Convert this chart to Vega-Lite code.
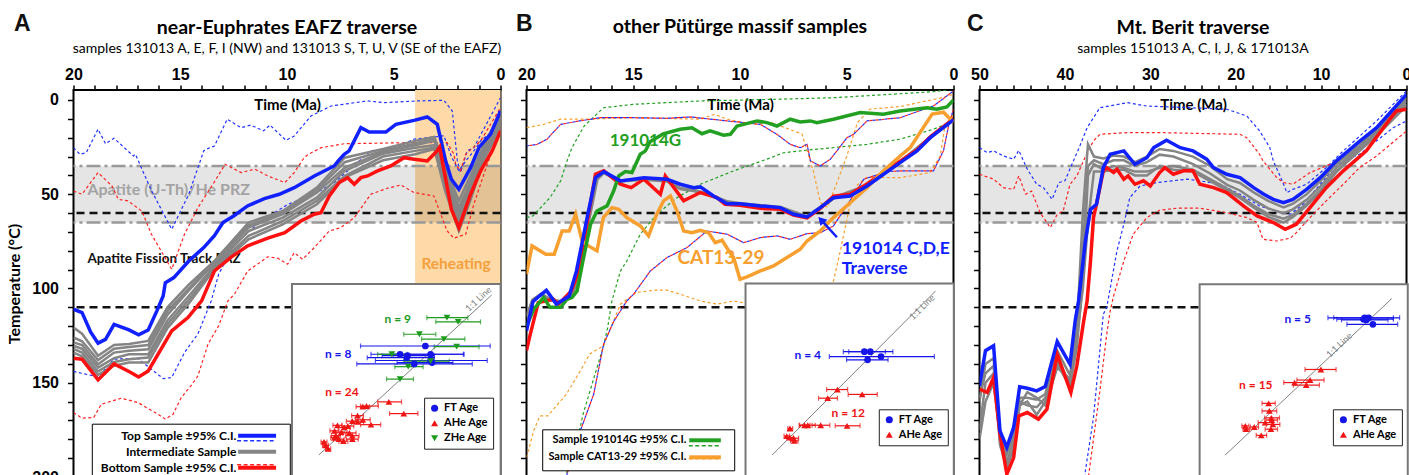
{
"$schema": "https://vega.github.io/schema/vega-lite/v6.json",
"padding": {"left": 5.5, "top": 11, "right": 0, "bottom": 0},
"bounds": "flush",
"spacing": 26,
"config": {
  "font": "Lato",
  "view": {"stroke": "black", "strokeWidth": 2},
  "axis": {"labelColor": "black", "titleColor": "black", "tickColor": "black", "domainColor": "black", "grid": false, "labelFont": "Liberation Sans", "titleFont": "Lato"},
  "legend": {"labelFont": "Lato", "labelColor": "black"},
  "text": {"font": "Lato"},
  "title": {"font": "Lato", "subtitleFont": "Lato", "color": "black", "subtitleColor": "black"}
},
"datasets": {
"A_thick": [
{"s":"top","t":20,"T":111},{"s":"top","t":19.6,"T":112.8},{"s":"top","t":19.2,"T":123},{"s":"top","t":18.85,"T":129},{"s":"top","t":18.5,"T":127},{"s":"top","t":18.1,"T":119},{"s":"top","t":17.4,"T":122},{"s":"top","t":16.95,"T":124.6},{"s":"top","t":16.5,"T":122},{"s":"top","t":16.1,"T":112},{"s":"top","t":15.8,"T":104},{"s":"top","t":15.7,"T":97},{"s":"top","t":15.3,"T":94.2},{"s":"top","t":14.6,"T":85.4},{"s":"top","t":13.9,"T":78.3},{"s":"top","t":13.4,"T":72},{"s":"top","t":13.0,"T":65},{"s":"top","t":12.5,"T":61.5},{"s":"top","t":11.85,"T":56.2},{"s":"top","t":11.06,"T":52.3},{"s":"top","t":10.36,"T":50},{"s":"top","t":9.66,"T":46.5},{"s":"top","t":8.72,"T":40.3},{"s":"top","t":7.79,"T":35},{"s":"top","t":7.6,"T":32.3},{"s":"top","t":7.32,"T":28.8},{"s":"top","t":7.09,"T":27},{"s":"top","t":6.54,"T":14.7},{"s":"top","t":6.15,"T":17},{"s":"top","t":5.37,"T":17},{"s":"top","t":4.9,"T":12.9},{"s":"top","t":4.05,"T":10.8},{"s":"top","t":3.43,"T":9},{"s":"top","t":2.96,"T":12.9},{"s":"top","t":2.57,"T":32.3},{"s":"top","t":2.3,"T":42},{"s":"top","t":1.95,"T":47.4},{"s":"top","t":1.4,"T":35.9},{"s":"top","t":1.0,"T":25},{"s":"top","t":0.47,"T":18.2},{"s":"top","t":0,"T":5.8},
{"s":"bot","t":20,"T":137},{"s":"bot","t":19.6,"T":137.5},{"s":"bot","t":18.85,"T":148.5},{"s":"bot","t":18.1,"T":140},{"s":"bot","t":17.4,"T":144},{"s":"bot","t":16.95,"T":146.9},{"s":"bot","t":16.5,"T":143.7},{"s":"bot","t":15.4,"T":122.5},{"s":"bot","t":14.64,"T":115.4},{"s":"bot","t":14.0,"T":106.6},{"s":"bot","t":13.4,"T":90.7},{"s":"bot","t":12.6,"T":83.2},{"s":"bot","t":11.84,"T":77.4},{"s":"bot","t":10.9,"T":73.3},{"s":"bot","t":10.1,"T":70.4},{"s":"bot","t":9.35,"T":64.2},{"s":"bot","t":8.72,"T":60.6},{"s":"bot","t":8.41,"T":59.8},{"s":"bot","t":8.02,"T":50.9},{"s":"bot","t":7.55,"T":43.8},{"s":"bot","t":7.16,"T":41.2},{"s":"bot","t":6.85,"T":44.7},{"s":"bot","t":6.54,"T":41.2},{"s":"bot","t":6.23,"T":40.3},{"s":"bot","t":5.76,"T":37.6},{"s":"bot","t":5.14,"T":35},{"s":"bot","t":4.52,"T":30.6},{"s":"bot","t":4.05,"T":31.4},{"s":"bot","t":3.43,"T":32.3},{"s":"bot","t":3.04,"T":27.9},{"s":"bot","t":2.85,"T":25},{"s":"bot","t":2.6,"T":40},{"s":"bot","t":2.3,"T":58},{"s":"bot","t":1.95,"T":67.7},{"s":"bot","t":1.4,"T":50},{"s":"bot","t":0.93,"T":37.6},{"s":"bot","t":0.39,"T":27},{"s":"bot","t":0,"T":16.4}
],
"A_gray": [
{"t":20,"g1":120.7,"g2":128.6,"g3":130.4,"g4":132,"g5":134,"g6":126},
{"t":19.6,"g1":124,"g2":130,"g3":132,"g4":134,"g5":136,"g6":128},
{"t":18.85,"g1":135.7,"g2":140.2,"g3":142,"g4":144,"g5":145.8,"g6":138},
{"t":18.1,"g1":130,"g2":134,"g3":137,"g4":139,"g5":141,"g6":132},
{"t":17.4,"g1":129.5,"g2":133,"g3":134.9,"g4":137.5,"g5":139.3,"g6":131},
{"t":16.5,"g1":127.8,"g2":132.2,"g3":134.9,"g4":136.6,"g5":139.3,"g6":130},
{"t":15.6,"g1":110,"g2":114,"g3":117,"g4":119,"g5":121,"g6":112},
{"t":14.6,"g1":98,"g2":101,"g3":104,"g4":106,"g5":108,"g6":100},
{"t":13.4,"g1":85.4,"g2":86.5,"g3":88,"g4":89,"g5":89.8,"g6":86},
{"t":11.8,"g1":65,"g2":67.7,"g3":69.5,"g4":72.1,"g5":73.9,"g6":66.5},
{"t":10.2,"g1":58.9,"g2":60.6,"g3":62.4,"g4":64.2,"g5":66,"g6":59.8},
{"t":8.6,"g1":46.5,"g2":49.1,"g3":51.8,"g4":53.5,"g5":55.3,"g6":47.8},
{"t":7.3,"g1":30.6,"g2":36,"g3":37.6,"g4":40.3,"g5":41,"g6":33},
{"t":5.5,"g1":26,"g2":27.5,"g3":28.5,"g4":30,"g5":32,"g6":27},
{"t":4.0,"g1":21.7,"g2":24,"g3":25.3,"g4":27,"g5":28.8,"g6":23},
{"t":3.1,"g1":19.6,"g2":21.7,"g3":24,"g4":25.3,"g5":26,"g6":20.5},
{"t":2.6,"g1":35,"g2":38,"g3":42,"g4":45,"g5":48,"g6":40},
{"t":1.95,"g1":53.5,"g2":57,"g3":61.5,"g4":64.2,"g5":69.5,"g6":60},
{"t":1.4,"g1":40,"g2":43,"g3":46,"g4":49,"g5":53,"g6":44},
{"t":0.8,"g1":24,"g2":26,"g3":28,"g4":30,"g5":32,"g6":27},
{"t":0,"g1":7.6,"g2":10,"g3":11.1,"g4":13,"g5":15,"g6":9}
],
"A_dash": [
{"s":"top","id":"u","t":20,"T":25.3},{"s":"top","id":"u","t":19.7,"T":28.8},{"s":"top","id":"u","t":19.4,"T":27.9},{"s":"top","id":"u","t":18.85,"T":15.5},{"s":"top","id":"u","t":18.5,"T":23.2},{"s":"top","id":"u","t":18.1,"T":20.3},{"s":"top","id":"u","t":17.2,"T":29.7},{"s":"top","id":"u","t":17.1,"T":28.8},{"s":"top","id":"u","t":16.35,"T":48},{"s":"top","id":"u","t":15.4,"T":68.6},{"s":"top","id":"u","t":14.6,"T":50},{"s":"top","id":"u","t":13.9,"T":27},{"s":"top","id":"u","t":13.8,"T":26.2},{"s":"top","id":"u","t":13.4,"T":24.4},{"s":"top","id":"u","t":12.8,"T":10.2},{"s":"top","id":"u","t":12.15,"T":14.7},{"s":"top","id":"u","t":11.7,"T":13.3},{"s":"top","id":"u","t":11.1,"T":16.4},{"s":"top","id":"u","t":10.8,"T":13.3},{"s":"top","id":"u","t":10.05,"T":21.4},{"s":"top","id":"u","t":9.66,"T":19.1},{"s":"top","id":"u","t":8.88,"T":8.5},{"s":"top","id":"u","t":7.94,"T":3.2},{"s":"top","id":"u","t":6.23,"T":0.5},{"s":"top","id":"u","t":5.45,"T":1.4},{"s":"top","id":"u","t":3.9,"T":0.5},{"s":"top","id":"u","t":2.65,"T":0.2},{"s":"top","id":"u","t":2.26,"T":5.8},{"s":"top","id":"u","t":2.02,"T":32.3},{"s":"top","id":"u","t":1.87,"T":38.5},{"s":"top","id":"u","t":1.56,"T":27},{"s":"top","id":"u","t":1.25,"T":25.3},{"s":"top","id":"u","t":0,"T":-1.2},
{"s":"top","id":"l","t":20,"T":144},{"s":"top","id":"l","t":18.85,"T":146.9},{"s":"top","id":"l","t":18.1,"T":137.5},{"s":"top","id":"l","t":17.0,"T":137},{"s":"top","id":"l","t":15.8,"T":147.8},{"s":"top","id":"l","t":15.4,"T":147.2},{"s":"top","id":"l","t":14.8,"T":134},{"s":"top","id":"l","t":14.17,"T":124},{"s":"top","id":"l","t":13.55,"T":106.6},{"s":"top","id":"l","t":13.2,"T":92.4},{"s":"top","id":"l","t":12.46,"T":76.5},{"s":"top","id":"l","t":11.2,"T":64.2},{"s":"top","id":"l","t":9.97,"T":55.4},{"s":"top","id":"l","t":8.72,"T":50},{"s":"top","id":"l","t":7.79,"T":43.8},{"s":"top","id":"l","t":7.16,"T":37.6},{"s":"top","id":"l","t":6.07,"T":27},{"s":"top","id":"l","t":4.98,"T":25.3},{"s":"top","id":"l","t":4.05,"T":20.8},{"s":"top","id":"l","t":2.65,"T":19},{"s":"top","id":"l","t":2.3,"T":30},{"s":"top","id":"l","t":1.95,"T":37.6},{"s":"top","id":"l","t":1.6,"T":32},{"s":"top","id":"l","t":1.25,"T":27},{"s":"top","id":"l","t":0.93,"T":21.7},{"s":"top","id":"l","t":0,"T":12.9},
{"s":"bot","id":"u","t":20,"T":48.3},{"s":"bot","id":"u","t":19.6,"T":50},{"s":"bot","id":"u","t":18.85,"T":38.5},{"s":"bot","id":"u","t":18.2,"T":45.6},{"s":"bot","id":"u","t":17.9,"T":52.7},{"s":"bot","id":"u","t":17.45,"T":53.5},{"s":"bot","id":"u","t":16.8,"T":58.9},{"s":"bot","id":"u","t":16.35,"T":71.2},{"s":"bot","id":"u","t":15.4,"T":89.8},{"s":"bot","id":"u","t":14.8,"T":71.2},{"s":"bot","id":"u","t":14.17,"T":57.1},{"s":"bot","id":"u","t":13.47,"T":44.7},{"s":"bot","id":"u","t":12.9,"T":34.1},{"s":"bot","id":"u","t":12.15,"T":38.5},{"s":"bot","id":"u","t":11.5,"T":36.7},{"s":"bot","id":"u","t":10.9,"T":40.3},{"s":"bot","id":"u","t":10.1,"T":43.8},{"s":"bot","id":"u","t":9.66,"T":38.5},{"s":"bot","id":"u","t":9.2,"T":30.6},{"s":"bot","id":"u","t":9.0,"T":28.8},{"s":"bot","id":"u","t":8.4,"T":25.3},{"s":"bot","id":"u","t":7.3,"T":23.2},{"s":"bot","id":"u","t":4.05,"T":22.6},{"s":"bot","id":"u","t":2.5,"T":22.6},{"s":"bot","id":"u","t":2.18,"T":28.8},{"s":"bot","id":"u","t":2.1,"T":34.1},{"s":"bot","id":"u","t":1.87,"T":37.6},{"s":"bot","id":"u","t":1.63,"T":28.8},{"s":"bot","id":"u","t":0.93,"T":21.7},{"s":"bot","id":"u","t":0,"T":4.1},
{"s":"bot","id":"l","t":20,"T":165.8},{"s":"bot","id":"l","t":19.6,"T":168.8},{"s":"bot","id":"l","t":19.05,"T":168.4},{"s":"bot","id":"l","t":18.7,"T":161.4},{"s":"bot","id":"l","t":17.76,"T":158.2},{"s":"bot","id":"l","t":16.98,"T":160.5},{"s":"bot","id":"l","t":16.04,"T":166.7},{"s":"bot","id":"l","t":15.7,"T":169.3},{"s":"bot","id":"l","t":15.34,"T":166.7},{"s":"bot","id":"l","t":14.95,"T":157.8},{"s":"bot","id":"l","t":14.5,"T":151.6},{"s":"bot","id":"l","t":14.17,"T":146.3},{"s":"bot","id":"l","t":13.7,"T":129.5},{"s":"bot","id":"l","t":13.2,"T":119.8},{"s":"bot","id":"l","t":12.77,"T":106.6},{"s":"bot","id":"l","t":12.46,"T":103},{"s":"bot","id":"l","t":11.84,"T":90.7},{"s":"bot","id":"l","t":10.9,"T":83.2},{"s":"bot","id":"l","t":10.44,"T":83.9},{"s":"bot","id":"l","t":9.97,"T":87.1},{"s":"bot","id":"l","t":9.66,"T":81},{"s":"bot","id":"l","t":9.27,"T":84.5},{"s":"bot","id":"l","t":8.72,"T":78.3},{"s":"bot","id":"l","t":8.02,"T":69.5},{"s":"bot","id":"l","t":7.48,"T":67.7},{"s":"bot","id":"l","t":6.85,"T":62.4},{"s":"bot","id":"l","t":6.07,"T":50},{"s":"bot","id":"l","t":5.3,"T":46.8},{"s":"bot","id":"l","t":4.67,"T":45.1},{"s":"bot","id":"l","t":4.05,"T":49.1},{"s":"bot","id":"l","t":3.12,"T":50.9},{"s":"bot","id":"l","t":2.5,"T":69.5},{"s":"bot","id":"l","t":2.18,"T":73.3},{"s":"bot","id":"l","t":1.63,"T":71.2},{"s":"bot","id":"l","t":1.25,"T":55.3},{"s":"bot","id":"l","t":0.62,"T":34.1},{"s":"bot","id":"l","t":0,"T":14.7}
],
"A_ins": [
{"k":"FT","X":14.3,"Y":15.8,"lo":5.6,"hi":23.0},{"k":"FT","X":10.9,"Y":14.6,"lo":7.0,"hi":19.4},{"k":"FT","X":11.9,"Y":14.4,"lo":8.5,"hi":15.5},{"k":"FT","X":15.0,"Y":14.6,"lo":10.0,"hi":19.5},{"k":"FT","X":11.8,"Y":14.1,"lo":6.5,"hi":15.5},{"k":"FT","X":12.8,"Y":13.2,"lo":5.1,"hi":20.6},{"k":"FT","X":15.0,"Y":13.7,"lo":7.6,"hi":22.6},{"k":"FT","X":15.2,"Y":13.4,"lo":10.5,"hi":18.0},
{"k":"ZHe","X":17.2,"Y":19.9,"lo":14.5,"hi":20.0},{"k":"ZHe","X":18.7,"Y":19.3,"lo":15.7,"hi":21.7},{"k":"ZHe","X":13.5,"Y":17.5,"lo":11.4,"hi":15.7},{"k":"ZHe","X":16.8,"Y":16.8,"lo":13.8,"hi":19.6},{"k":"ZHe","X":18.5,"Y":15.7,"lo":15.5,"hi":21.5},{"k":"ZHe","X":9.8,"Y":14.6,"lo":7.9,"hi":11.9},{"k":"ZHe","X":15.0,"Y":13.6,"lo":11.4,"hi":17.5},{"k":"ZHe","X":12.0,"Y":12.8,"lo":10.2,"hi":14.0},{"k":"ZHe","X":10.9,"Y":11.0,"lo":9.1,"hi":12.7},
{"k":"AHe","X":6.4,"Y":7.1,"lo":5.6,"hi":8.0},{"k":"AHe","X":5.9,"Y":7.0,"lo":5.0,"hi":6.8},{"k":"AHe","X":9.4,"Y":7.7,"lo":7.9,"hi":11.1},{"k":"AHe","X":11.4,"Y":6.0,"lo":9.5,"hi":13.3},{"k":"AHe","X":5.9,"Y":5.1,"lo":4.9,"hi":6.9},{"k":"AHe","X":5.2,"Y":4.8,"lo":4.4,"hi":6.0},{"k":"AHe","X":7.0,"Y":4.4,"lo":5.6,"hi":8.3},{"k":"AHe","X":4.5,"Y":4.9,"lo":3.7,"hi":5.3},{"k":"AHe","X":2.5,"Y":4.3,"lo":1.9,"hi":3.1},{"k":"AHe","X":3.9,"Y":4.2,"lo":3.1,"hi":4.7},{"k":"AHe","X":3.4,"Y":4.0,"lo":2.6,"hi":4.2},{"k":"AHe","X":2.1,"Y":3.5,"lo":1.5,"hi":2.7},{"k":"AHe","X":3.0,"Y":3.3,"lo":2.2,"hi":3.8},{"k":"AHe","X":4.1,"Y":3.2,"lo":3.2,"hi":5.0},{"k":"AHe","X":2.3,"Y":2.8,"lo":1.7,"hi":2.9},{"k":"AHe","X":4.5,"Y":2.8,"lo":3.6,"hi":5.4},{"k":"AHe","X":3.3,"Y":2.0,"lo":2.7,"hi":3.9},{"k":"AHe","X":2.7,"Y":2.3,"lo":2.0,"hi":3.4},{"k":"AHe","X":4.5,"Y":2.3,"lo":3.7,"hi":5.3},{"k":"AHe","X":0.7,"Y":1.9,"lo":0.3,"hi":1.1},{"k":"AHe","X":0.9,"Y":1.4,"lo":0.5,"hi":1.3},{"k":"AHe","X":1.25,"Y":0.9,"lo":0.9,"hi":1.6},{"k":"AHe","X":2.1,"Y":2.5,"lo":1.6,"hi":2.6},{"k":"AHe","X":5.2,"Y":5.7,"lo":4.4,"hi":6.0}
],
"B_thick": [
{"s":"gr","t":20,"T":115},{"s":"gr","t":19.7,"T":106},{"s":"gr","t":19.3,"T":103},{"s":"gr","t":18.9,"T":106},{"s":"gr","t":18.4,"T":107},{"s":"gr","t":17.9,"T":104},{"s":"gr","t":17.6,"T":95},{"s":"gr","t":17.2,"T":70},{"s":"gr","t":16.7,"T":42},{"s":"gr","t":16.38,"T":38.5},{"s":"gr","t":15.6,"T":43},{"s":"gr","t":14.5,"T":42},{"s":"gr","t":13.4,"T":43},{"s":"gr","t":12.8,"T":47},{"s":"gr","t":12.17,"T":48},{"s":"gr","t":11.5,"T":50},{"s":"gr","t":10.6,"T":54},{"s":"gr","t":10,"T":55},{"s":"gr","t":8.1,"T":57},{"s":"gr","t":6.86,"T":62},{"s":"gr","t":5.62,"T":52},{"s":"gr","t":4.05,"T":45.5},{"s":"gr","t":2.5,"T":33},{"s":"gr","t":1.09,"T":20},{"s":"gr","t":0,"T":10.5},
{"s":"r","t":20,"T":133},{"s":"r","t":19.84,"T":125},{"s":"r","t":19.45,"T":107.5},{"s":"r","t":18.75,"T":105.7},{"s":"r","t":18.5,"T":108.3},{"s":"r","t":17.9,"T":101.3},{"s":"r","t":17.6,"T":92},{"s":"r","t":17.16,"T":65},{"s":"r","t":16.77,"T":39.4},{"s":"r","t":16.38,"T":37.6},{"s":"r","t":15.6,"T":44.7},{"s":"r","t":15.1,"T":46.5},{"s":"r","t":14.5,"T":42},{"s":"r","t":13.73,"T":50},{"s":"r","t":13.5,"T":40.3},{"s":"r","t":12.64,"T":53.5},{"s":"r","t":11.86,"T":49.1},{"s":"r","t":11.08,"T":51.8},{"s":"r","t":10.7,"T":55.3},{"s":"r","t":10,"T":55.8},{"s":"r","t":9.05,"T":57.5},{"s":"r","t":8.11,"T":58},{"s":"r","t":7.49,"T":61},{"s":"r","t":6.86,"T":62.5},{"s":"r","t":6.24,"T":57.5},{"s":"r","t":5.62,"T":51},{"s":"r","t":4.84,"T":50},{"s":"r","t":4.05,"T":44.5},{"s":"r","t":3.28,"T":38.5},{"s":"r","t":2.5,"T":32.5},{"s":"r","t":1.71,"T":26.5},{"s":"r","t":1.09,"T":19.5},{"s":"r","t":0,"T":10},
{"s":"o","t":20,"T":92.4},{"s":"o","t":19.74,"T":77.4},{"s":"o","t":19.1,"T":81.8},{"s":"o","t":18.7,"T":81.8},{"s":"o","t":18.33,"T":69.5},{"s":"o","t":18.0,"T":69.5},{"s":"o","t":17.7,"T":60.6},{"s":"o","t":17.4,"T":74.8},{"s":"o","t":17.1,"T":77.4},{"s":"o","t":16.7,"T":80},{"s":"o","t":16.4,"T":62.4},{"s":"o","t":16.0,"T":57.1},{"s":"o","t":15.68,"T":58},{"s":"o","t":15.3,"T":62.4},{"s":"o","t":14.67,"T":66.8},{"s":"o","t":14.28,"T":72.1},{"s":"o","t":13.9,"T":60.6},{"s":"o","t":13.58,"T":53.5},{"s":"o","t":13.26,"T":50.9},{"s":"o","t":12.95,"T":58.9},{"s":"o","t":12.64,"T":69.5},{"s":"o","t":12.25,"T":70.4},{"s":"o","t":11.86,"T":69.1},{"s":"o","t":11.47,"T":70.4},{"s":"o","t":11.16,"T":75.7},{"s":"o","t":10.84,"T":74.4},{"s":"o","t":10.53,"T":80},{"s":"o","t":10.3,"T":83.6},{"s":"o","t":10.0,"T":95.1},{"s":"o","t":9.67,"T":93.8},{"s":"o","t":9.05,"T":90.7},{"s":"o","t":8.43,"T":88},{"s":"o","t":7.8,"T":83.6},{"s":"o","t":7.18,"T":79.2},{"s":"o","t":6.86,"T":74.8},{"s":"o","t":6.24,"T":69.5},{"s":"o","t":5.62,"T":62.4},{"s":"o","t":4.84,"T":54.5},{"s":"o","t":4.05,"T":46.5},{"s":"o","t":3.28,"T":37.6},{"s":"o","t":2.5,"T":29.7},{"s":"o","t":2.03,"T":25.3},{"s":"o","t":1.0,"T":7.5},{"s":"o","t":0.47,"T":6.5},{"s":"o","t":0,"T":12},
{"s":"g","t":20,"T":120},{"s":"g","t":19.66,"T":111},{"s":"g","t":19.2,"T":104.8},{"s":"g","t":18.9,"T":110},{"s":"g","t":18.4,"T":110},{"s":"g","t":18.1,"T":105.7},{"s":"g","t":17.87,"T":104.8},{"s":"g","t":17.63,"T":101.3},{"s":"g","t":17.35,"T":85},{"s":"g","t":17.0,"T":65.9},{"s":"g","t":16.7,"T":58.9},{"s":"g","t":16.23,"T":56.2},{"s":"g","t":15.92,"T":48.3},{"s":"g","t":15.68,"T":40.3},{"s":"g","t":15.37,"T":38},{"s":"g","t":15.06,"T":38.5},{"s":"g","t":14.67,"T":28.8},{"s":"g","t":14.43,"T":27},{"s":"g","t":14.2,"T":22},{"s":"g","t":13.6,"T":18},{"s":"g","t":12.8,"T":15.5},{"s":"g","t":12.25,"T":14.7},{"s":"g","t":11.78,"T":17.9},{"s":"g","t":11.4,"T":16.4},{"s":"g","t":10.77,"T":18.7},{"s":"g","t":10.45,"T":18.2},{"s":"g","t":10.14,"T":13.8},{"s":"g","t":9.2,"T":11.1},{"s":"g","t":8.74,"T":12},{"s":"g","t":8.27,"T":13.8},{"s":"g","t":7.65,"T":10.2},{"s":"g","t":7.18,"T":11.7},{"s":"g","t":6.7,"T":11.1},{"s":"g","t":6.4,"T":12},{"s":"g","t":5.62,"T":10.2},{"s":"g","t":4.37,"T":6.7},{"s":"g","t":3.28,"T":7.6},{"s":"g","t":2.5,"T":5.8},{"s":"g","t":1.25,"T":4.1},{"s":"g","t":0.78,"T":4.9},{"s":"g","t":0.31,"T":3.7},{"s":"g","t":0,"T":0},
{"s":"b","t":20,"T":122.5},{"s":"b","t":19.7,"T":107},{"s":"b","t":19.4,"T":104},{"s":"b","t":19.07,"T":101},{"s":"b","t":18.6,"T":108.3},{"s":"b","t":18.0,"T":104},{"s":"b","t":17.66,"T":90.7},{"s":"b","t":17.16,"T":62.4},{"s":"b","t":16.77,"T":41.2},{"s":"b","t":16.38,"T":38},{"s":"b","t":15.6,"T":42.9},{"s":"b","t":14.5,"T":41.2},{"s":"b","t":13.42,"T":42},{"s":"b","t":12.8,"T":44.7},{"s":"b","t":12.17,"T":46.5},{"s":"b","t":11.86,"T":46.1},{"s":"b","t":11.24,"T":50.9},{"s":"b","t":10.6,"T":55},{"s":"b","t":10,"T":55},{"s":"b","t":9.05,"T":56.2},{"s":"b","t":8.11,"T":57.1},{"s":"b","t":7.49,"T":60.6},{"s":"b","t":6.86,"T":62},{"s":"b","t":6.24,"T":57.1},{"s":"b","t":5.62,"T":51.8},{"s":"b","t":4.84,"T":50.9},{"s":"b","t":4.05,"T":45.6},{"s":"b","t":3.28,"T":39.4},{"s":"b","t":2.5,"T":33.2},{"s":"b","t":1.71,"T":27},{"s":"b","t":1.09,"T":20},{"s":"b","t":0,"T":10.5}
],
"B_dash": [
{"s":"g","id":"u","t":20,"T":62.4},{"s":"g","id":"u","t":19.7,"T":61.5},{"s":"g","id":"u","t":18.9,"T":51.8},{"s":"g","id":"u","t":18.4,"T":42.9},{"s":"g","id":"u","t":18.1,"T":32.3},{"s":"g","id":"u","t":17.87,"T":25.3},{"s":"g","id":"u","t":17.3,"T":13.8},{"s":"g","id":"u","t":16.39,"T":4.1},{"s":"g","id":"u","t":14.98,"T":2.3},{"s":"g","id":"u","t":11.86,"T":0.5},{"s":"g","id":"u","t":8.27,"T":-0.4},{"s":"g","id":"u","t":5.62,"T":-1.2},{"s":"g","id":"u","t":0.94,"T":-4.4},{"s":"g","id":"u","t":0,"T":-5.8},
{"s":"g","id":"l","t":18.4,"T":215},{"s":"g","id":"l","t":18.19,"T":199},{"s":"g","id":"l","t":17.8,"T":189.6},{"s":"g","id":"l","t":17.35,"T":166.7},{"s":"g","id":"l","t":16.7,"T":142},{"s":"g","id":"l","t":16.4,"T":131},{"s":"g","id":"l","t":16.2,"T":120.7},{"s":"g","id":"l","t":16.0,"T":106.6},{"s":"g","id":"l","t":15.6,"T":90.7},{"s":"g","id":"l","t":15.3,"T":85.4},{"s":"g","id":"l","t":14.67,"T":71.2},{"s":"g","id":"l","t":13.9,"T":60.6},{"s":"g","id":"l","t":12.95,"T":51.8},{"s":"g","id":"l","t":11.86,"T":44.7},{"s":"g","id":"l","t":10.3,"T":37.6},{"s":"g","id":"l","t":8.74,"T":31.4},{"s":"g","id":"l","t":7.96,"T":28},{"s":"g","id":"l","t":7.18,"T":27},{"s":"g","id":"l","t":4.05,"T":23.5},{"s":"g","id":"l","t":2.5,"T":20.8},{"s":"g","id":"l","t":0.94,"T":15.5},{"s":"g","id":"l","t":0.16,"T":12},{"s":"g","id":"l","t":0,"T":10},
{"s":"o","id":"u","t":20,"T":14.7},{"s":"o","id":"u","t":19.2,"T":12.9},{"s":"o","id":"u","t":18.4,"T":10.2},{"s":"o","id":"u","t":17.3,"T":10.2},{"s":"o","id":"u","t":15,"T":9.4},{"s":"o","id":"u","t":11.86,"T":10.2},{"s":"o","id":"u","t":11.2,"T":7.6},{"s":"o","id":"u","t":10.6,"T":10.2},{"s":"o","id":"u","t":9.36,"T":12.9},{"s":"o","id":"u","t":8.58,"T":11.8},{"s":"o","id":"u","t":7.1,"T":18},{"s":"o","id":"u","t":6.55,"T":38.3},{"s":"o","id":"u","t":6.24,"T":54.3},{"s":"o","id":"u","t":5.9,"T":57},{"s":"o","id":"u","t":5.5,"T":45},{"s":"o","id":"u","t":4.99,"T":29.5},{"s":"o","id":"u","t":4.5,"T":12},{"s":"o","id":"u","t":3.9,"T":4.8},{"s":"o","id":"u","t":2.5,"T":3.5},{"s":"o","id":"u","t":0.47,"T":-1.4},{"s":"o","id":"u","t":0,"T":-3},
{"s":"o","id":"l","t":20,"T":189.6},{"s":"o","id":"l","t":19.66,"T":175.5},{"s":"o","id":"l","t":19.38,"T":167.6},{"s":"o","id":"l","t":19.0,"T":167.6},{"s":"o","id":"l","t":18.13,"T":156},{"s":"o","id":"l","t":17.48,"T":143.7},{"s":"o","id":"l","t":17.04,"T":134.8},{"s":"o","id":"l","t":16.4,"T":130.4},{"s":"o","id":"l","t":15.6,"T":108.3},{"s":"o","id":"l","t":14.86,"T":102.2},{"s":"o","id":"l","t":14.0,"T":100.9},{"s":"o","id":"l","t":13.42,"T":100.9},{"s":"o","id":"l","t":12.8,"T":103},{"s":"o","id":"l","t":11.86,"T":106.6},{"s":"o","id":"l","t":11.08,"T":108.3},{"s":"o","id":"l","t":10.3,"T":106.6},{"s":"o","id":"l","t":9.52,"T":108.3},{"s":"o","id":"l","t":8.74,"T":104.8},{"s":"o","id":"l","t":7.65,"T":104.8},{"s":"o","id":"l","t":6.4,"T":103},{"s":"o","id":"l","t":5.62,"T":96},{"s":"o","id":"l","t":5.3,"T":80},{"s":"o","id":"l","t":4.84,"T":55},{"s":"o","id":"l","t":4.5,"T":45},{"s":"o","id":"l","t":4.05,"T":41},{"s":"o","id":"l","t":2.5,"T":41.2},{"s":"o","id":"l","t":1.09,"T":38.5},{"s":"o","id":"l","t":0.62,"T":29.7},{"s":"o","id":"l","t":0.39,"T":13},{"s":"o","id":"l","t":0,"T":8}
],
"B_trav": [
{"id":"u","t":20,"T":24.4},{"id":"u","t":19.5,"T":23.5},{"id":"u","t":19.04,"T":20.8},{"id":"u","t":18.4,"T":12.9},{"id":"u","t":17.5,"T":11.1},{"id":"u","t":16.54,"T":9.4},{"id":"u","t":15,"T":9.4},{"id":"u","t":13.42,"T":9.7},{"id":"u","t":12.33,"T":9},{"id":"u","t":10.6,"T":11.1},{"id":"u","t":9.05,"T":12.9},{"id":"u","t":8.27,"T":18.2},{"id":"u","t":7.65,"T":23.5},{"id":"u","t":7.18,"T":25.3},{"id":"u","t":6.86,"T":23.5},{"id":"u","t":6.7,"T":32.3},{"id":"u","t":6.24,"T":35},{"id":"u","t":5.77,"T":31.4},{"id":"u","t":5.46,"T":27},{"id":"u","t":4.99,"T":20},{"id":"u","t":4.68,"T":18.2},{"id":"u","t":4.05,"T":11.1},{"id":"u","t":2.5,"T":9.4},{"id":"u","t":0.94,"T":3.2},{"id":"u","t":0,"T":-4.8},
{"id":"l","t":18.3,"T":215},{"id":"l","t":18.1,"T":198.5},{"id":"l","t":17.48,"T":175.5},{"id":"l","t":16.85,"T":156},{"id":"l","t":16.39,"T":129.5},{"id":"l","t":15.9,"T":117.2},{"id":"l","t":15.3,"T":106.6},{"id":"l","t":14.98,"T":103},{"id":"l","t":14.2,"T":90.7},{"id":"l","t":13.42,"T":83.6},{"id":"l","t":12.48,"T":78.3},{"id":"l","t":11.55,"T":69.5},{"id":"l","t":10.6,"T":71.2},{"id":"l","t":9.83,"T":75.7},{"id":"l","t":9.05,"T":73},{"id":"l","t":8.27,"T":72.1},{"id":"l","t":7.65,"T":73.9},{"id":"l","t":6.86,"T":70.9},{"id":"l","t":6.24,"T":70.4},{"id":"l","t":5.62,"T":66.8},{"id":"l","t":4.2,"T":42},{"id":"l","t":3.1,"T":38},{"id":"l","t":2.5,"T":37.6},{"id":"l","t":0.94,"T":37.6},{"id":"l","t":0.47,"T":27},{"id":"l","t":0.2,"T":12},{"id":"l","t":0,"T":5}
],
"B_ins": [
{"k":"FT","X":17.1,"Y":19.1,"lo":13.2,"hi":21.0},{"k":"FT","X":18.2,"Y":19.1,"lo":14.2,"hi":22.4},{"k":"FT","X":17.7,"Y":17.6,"lo":13.8,"hi":21.5},{"k":"FT","X":20.2,"Y":18.2,"lo":10.6,"hi":30.1},
{"k":"AHe","X":12.1,"Y":12.1,"lo":10.1,"hi":14.0},{"k":"AHe","X":16.7,"Y":11.2,"lo":14.1,"hi":19.5},{"k":"AHe","X":10.3,"Y":10.5,"lo":8.6,"hi":12.1},{"k":"AHe","X":13.9,"Y":5.4,"lo":11.7,"hi":16.3},{"k":"AHe","X":9.0,"Y":5.5,"lo":7.4,"hi":10.7},{"k":"AHe","X":6.6,"Y":5.5,"lo":5.1,"hi":8.0},{"k":"AHe","X":6.0,"Y":5.5,"lo":5.0,"hi":7.0},{"k":"AHe","X":3.3,"Y":4.9,"lo":2.9,"hi":3.8},{"k":"AHe","X":2.7,"Y":3.5,"lo":2.2,"hi":3.2},{"k":"AHe","X":3.3,"Y":3.2,"lo":2.7,"hi":3.9},{"k":"AHe","X":4.0,"Y":3.1,"lo":3.3,"hi":4.9},{"k":"AHe","X":4.1,"Y":2.6,"lo":3.4,"hi":4.8}
],
"C_thick": [
{"s":"r","t":50,"T":153.4},{"s":"r","t":49.1,"T":155.2},{"s":"r","t":48.35,"T":147.2},{"s":"r","t":47.6,"T":177.3},{"s":"r","t":46.8,"T":198.5},{"s":"r","t":46,"T":189.7},{"s":"r","t":45.4,"T":167.6},{"s":"r","t":44.4,"T":165.8},{"s":"r","t":43.1,"T":169.3},{"s":"r","t":42.1,"T":164},{"s":"r","t":40.9,"T":134.8},{"s":"r","t":39.3,"T":155.2},{"s":"r","t":38.6,"T":141},{"s":"r","t":37.8,"T":117.2},{"s":"r","t":37.4,"T":106.6},{"s":"r","t":37,"T":85.4},{"s":"r","t":36.65,"T":62.4},{"s":"r","t":36.3,"T":55.3},{"s":"r","t":35.5,"T":37.6},{"s":"r","t":35.1,"T":35.9},{"s":"r","t":34.3,"T":38.5},{"s":"r","t":33.9,"T":36.7},{"s":"r","t":33.1,"T":42},{"s":"r","t":32.6,"T":40.3},{"s":"r","t":31.8,"T":44.7},{"s":"r","t":30.8,"T":42.9},{"s":"r","t":30,"T":45.6},{"s":"r","t":28.9,"T":38.5},{"s":"r","t":28.3,"T":35.9},{"s":"r","t":27.3,"T":39.4},{"s":"r","t":26.1,"T":37.6},{"s":"r","t":25,"T":37.6},{"s":"r","t":24.2,"T":44.7},{"s":"r","t":22.6,"T":46.5},{"s":"r","t":21.05,"T":49.1},{"s":"r","t":19.1,"T":56.2},{"s":"r","t":17.5,"T":61.5},{"s":"r","t":15.6,"T":65},{"s":"r","t":14.2,"T":68.6},{"s":"r","t":12.9,"T":65.9},{"s":"r","t":11.3,"T":57.1},{"s":"r","t":9.4,"T":46.5},{"s":"r","t":7.4,"T":37.6},{"s":"r","t":4.7,"T":27},{"s":"r","t":1.95,"T":10.2},{"s":"r","t":1.2,"T":5.8},{"s":"r","t":0,"T":4.9},
{"s":"b","t":50,"T":151.6},{"s":"b","t":49.3,"T":133},{"s":"b","t":48.35,"T":130.4},{"s":"b","t":47.6,"T":175.5},{"s":"b","t":46.8,"T":184.3},{"s":"b","t":46,"T":173.7},{"s":"b","t":45.3,"T":152.2},{"s":"b","t":44.4,"T":152.9},{"s":"b","t":43.3,"T":154.3},{"s":"b","t":42.3,"T":152},{"s":"b","t":40.9,"T":128.2},{"s":"b","t":39.4,"T":140.2},{"s":"b","t":38.8,"T":117.2},{"s":"b","t":38.4,"T":106.6},{"s":"b","t":37.6,"T":74.8},{"s":"b","t":37,"T":58},{"s":"b","t":36.3,"T":55.3},{"s":"b","t":35.5,"T":35.9},{"s":"b","t":34.7,"T":28.8},{"s":"b","t":33.1,"T":27},{"s":"b","t":31.8,"T":34.1},{"s":"b","t":30.4,"T":30.6},{"s":"b","t":29.6,"T":25.3},{"s":"b","t":28.1,"T":21.4},{"s":"b","t":26.5,"T":25.3},{"s":"b","t":25,"T":27},{"s":"b","t":23.4,"T":31.4},{"s":"b","t":22.6,"T":35.9},{"s":"b","t":21.05,"T":39.4},{"s":"b","t":19.5,"T":41.2},{"s":"b","t":17.9,"T":46.5},{"s":"b","t":16.8,"T":49.7},{"s":"b","t":15.6,"T":52.7},{"s":"b","t":14.4,"T":54.5},{"s":"b","t":13.3,"T":52.7},{"s":"b","t":11.7,"T":47.4},{"s":"b","t":10.1,"T":41.2},{"s":"b","t":8.2,"T":32.3},{"s":"b","t":5.5,"T":22},{"s":"b","t":3.5,"T":14.7},{"s":"b","t":0,"T":-3}
],
"C_gray": [
{"t":50,"gA":160,"gB":175,"gC":158,"gD":180},{"t":49.3,"gA":140,"gB":150,"gC":145,"gD":160},{"t":48.35,"gA":137,"gB":145,"gC":141,"gD":150},{"t":47.6,"gA":178,"gB":180,"gC":183,"gD":178},{"t":46.8,"gA":188,"gB":192,"gC":195,"gD":193},{"t":46,"gA":178,"gB":181,"gC":185,"gD":186},{"t":45.3,"gA":158,"gB":160,"gC":162,"gD":162},{"t":44.4,"gA":158,"gB":162,"gC":160,"gD":155},{"t":43.3,"gA":159,"gB":163,"gC":167,"gD":158},{"t":42.3,"gA":156,"gB":158,"gC":160,"gD":162},{"t":40.9,"gA":133,"gB":138,"gC":140,"gD":142},{"t":39.4,"gA":146,"gB":150,"gC":152,"gD":148},{"t":38.6,"gA":122,"gB":127,"gC":131,"gD":125},{"t":37.9,"gA":60,"gB":80,"gC":95,"gD":100},{"t":37.3,"gA":23.5,"gB":35,"gC":40,"gD":65},{"t":36.6,"gA":30,"gB":32,"gC":34,"gD":38},{"t":35.5,"gA":31,"gB":34,"gC":37,"gD":38},{"t":34.3,"gA":29.5,"gB":32,"gC":35,"gD":37},{"t":33.1,"gA":30,"gB":32,"gC":36,"gD":37},{"t":31.8,"gA":33,"gB":35,"gC":38,"gD":40},{"t":30.4,"gA":30,"gB":33,"gC":38,"gD":40},{"t":28.9,"gA":26,"gB":29,"gC":36,"gD":35},{"t":27.3,"gA":27,"gB":30,"gC":35,"gD":37},{"t":25,"gA":30,"gB":34,"gC":37,"gD":38},{"t":23,"gA":35,"gB":39,"gC":42,"gD":43},{"t":21,"gA":42,"gB":45,"gC":47,"gD":48},{"t":19.5,"gA":44,"gB":48,"gC":51,"gD":52},{"t":17.9,"gA":49,"gB":53,"gC":56,"gD":57},{"t":16.2,"gA":53.5,"gB":57.5,"gC":60.5,"gD":62},{"t":14.4,"gA":57,"gB":60,"gC":63,"gD":65},{"t":13.3,"gA":55,"gB":58,"gC":61,"gD":62},{"t":11.7,"gA":50,"gB":53,"gC":55,"gD":56},{"t":10.1,"gA":43,"gB":46,"gC":48,"gD":49},{"t":8.2,"gA":34,"gB":36,"gC":38,"gD":38},{"t":5.5,"gA":24,"gB":25,"gC":26,"gD":27},{"t":3.5,"gA":16,"gB":17,"gC":18,"gD":19},{"t":0,"gA":-1,"gB":0.5,"gC":2,"gD":3}
],
"C_dash": [
{"s":"b","id":"u","t":50,"T":25.3},{"s":"b","id":"u","t":49.1,"T":27.9},{"s":"b","id":"u","t":48.35,"T":27},{"s":"b","id":"u","t":47.2,"T":29.7},{"s":"b","id":"u","t":46,"T":31.4},{"s":"b","id":"u","t":45.4,"T":26.7},{"s":"b","id":"u","t":44.4,"T":36.7},{"s":"b","id":"u","t":43.3,"T":44.7},{"s":"b","id":"u","t":42.5,"T":46.5},{"s":"b","id":"u","t":41.5,"T":52.7},{"s":"b","id":"u","t":40.7,"T":43.8},{"s":"b","id":"u","t":40,"T":42.9},{"s":"b","id":"u","t":39,"T":32.3},{"s":"b","id":"u","t":38.3,"T":25},{"s":"b","id":"u","t":37.4,"T":14.7},{"s":"b","id":"u","t":35.9,"T":4.1},{"s":"b","id":"u","t":32.7,"T":1.4},{"s":"b","id":"u","t":31.6,"T":2.3},{"s":"b","id":"u","t":30.4,"T":3.2},{"s":"b","id":"u","t":21.05,"T":4.9},{"s":"b","id":"u","t":18.7,"T":8.5},{"s":"b","id":"u","t":17.2,"T":16.4},{"s":"b","id":"u","t":16,"T":25.3},{"s":"b","id":"u","t":15.6,"T":32.3},{"s":"b","id":"u","t":14.8,"T":40.3},{"s":"b","id":"u","t":14,"T":49.1},{"s":"b","id":"u","t":13.3,"T":47.4},{"s":"b","id":"u","t":11.7,"T":44.7},{"s":"b","id":"u","t":9.4,"T":35.9},{"s":"b","id":"u","t":7.4,"T":27},{"s":"b","id":"u","t":3.5,"T":11.1},{"s":"b","id":"u","t":0,"T":-4.8},
{"s":"b","id":"l","t":37.8,"T":215},{"s":"b","id":"l","t":37.6,"T":196.7},{"s":"b","id":"l","t":36.65,"T":168.4},{"s":"b","id":"l","t":35.5,"T":113.6},{"s":"b","id":"l","t":35.1,"T":110},{"s":"b","id":"l","t":33.9,"T":80},{"s":"b","id":"l","t":33.1,"T":65.9},{"s":"b","id":"l","t":32.4,"T":51.8},{"s":"b","id":"l","t":31.2,"T":45.6},{"s":"b","id":"l","t":29.2,"T":43.8},{"s":"b","id":"l","t":25.7,"T":42},{"s":"b","id":"l","t":24.2,"T":42.9},{"s":"b","id":"l","t":21.8,"T":44.7},{"s":"b","id":"l","t":19.5,"T":50},{"s":"b","id":"l","t":17.2,"T":56.2},{"s":"b","id":"l","t":14.8,"T":59.8},{"s":"b","id":"l","t":13.6,"T":60.6},{"s":"b","id":"l","t":12.1,"T":55.3},{"s":"b","id":"l","t":10.1,"T":44.7},{"s":"b","id":"l","t":8.2,"T":34.1},{"s":"b","id":"l","t":5.5,"T":28.8},{"s":"b","id":"l","t":1.55,"T":14.7},{"s":"b","id":"l","t":0,"T":11.1},
{"s":"r","id":"u","t":50,"T":39.4},{"s":"r","id":"u","t":48.35,"T":42},{"s":"r","id":"u","t":47.2,"T":46.5},{"s":"r","id":"u","t":46,"T":47.4},{"s":"r","id":"u","t":45.4,"T":40.3},{"s":"r","id":"u","t":44.6,"T":50},{"s":"r","id":"u","t":43.9,"T":48.3},{"s":"r","id":"u","t":42.9,"T":59.8},{"s":"r","id":"u","t":41.7,"T":67.7},{"s":"r","id":"u","t":40.9,"T":60.6},{"s":"r","id":"u","t":40.2,"T":58.9},{"s":"r","id":"u","t":39.4,"T":44.7},{"s":"r","id":"u","t":38.6,"T":40.3},{"s":"r","id":"u","t":37.4,"T":27.9},{"s":"r","id":"u","t":36.65,"T":21.7},{"s":"r","id":"u","t":35.9,"T":18.2},{"s":"r","id":"u","t":32.7,"T":17.3},{"s":"r","id":"u","t":28.9,"T":17.3},{"s":"r","id":"u","t":22.6,"T":17.9},{"s":"r","id":"u","t":19.5,"T":18.2},{"s":"r","id":"u","t":18.7,"T":20},{"s":"r","id":"u","t":17.2,"T":28.8},{"s":"r","id":"u","t":16.8,"T":32.3},{"s":"r","id":"u","t":15.2,"T":41.2},{"s":"r","id":"u","t":14.4,"T":43.8},{"s":"r","id":"u","t":13.3,"T":44.7},{"s":"r","id":"u","t":11.3,"T":38.5},{"s":"r","id":"u","t":9.4,"T":35},{"s":"r","id":"u","t":7.4,"T":30.6},{"s":"r","id":"u","t":5.5,"T":27},{"s":"r","id":"u","t":3.5,"T":17},{"s":"r","id":"u","t":1.5,"T":6},{"s":"r","id":"u","t":0,"T":-1.2},
{"s":"r","id":"l","t":37.5,"T":220},{"s":"r","id":"l","t":37.2,"T":198.5},{"s":"r","id":"l","t":35.9,"T":154.3},{"s":"r","id":"l","t":35.1,"T":124.2},{"s":"r","id":"l","t":34.7,"T":112},{"s":"r","id":"l","t":34.3,"T":104},{"s":"r","id":"l","t":33.1,"T":85.4},{"s":"r","id":"l","t":32,"T":71.2},{"s":"r","id":"l","t":30.4,"T":62.4},{"s":"r","id":"l","t":28.9,"T":58.5},{"s":"r","id":"l","t":26.9,"T":57.4},{"s":"r","id":"l","t":24.2,"T":57.4},{"s":"r","id":"l","t":21.05,"T":59.8},{"s":"r","id":"l","t":18.7,"T":62.4},{"s":"r","id":"l","t":17.5,"T":65},{"s":"r","id":"l","t":16.8,"T":73.9},{"s":"r","id":"l","t":15.2,"T":74.8},{"s":"r","id":"l","t":13.6,"T":73.3},{"s":"r","id":"l","t":12.9,"T":70.4},{"s":"r","id":"l","t":11.3,"T":62.4},{"s":"r","id":"l","t":9.4,"T":53.5},{"s":"r","id":"l","t":7.4,"T":44.7},{"s":"r","id":"l","t":5.5,"T":35.9},{"s":"r","id":"l","t":3.5,"T":29.7},{"s":"r","id":"l","t":0,"T":16.4}
],
"C_ins": [
{"k":"FT","X":36.0,"Y":37.7,"lo":26.5,"hi":45.0},{"k":"FT","X":37.0,"Y":37.7,"lo":28.0,"hi":43.4},{"k":"FT","X":35.7,"Y":37.3,"lo":28.8,"hi":43.4},{"k":"FT","X":36.4,"Y":37.1,"lo":30.0,"hi":42.0},{"k":"FT","X":38.1,"Y":35.9,"lo":31.4,"hi":44.5},
{"k":"AHe","X":24.7,"Y":23.5,"lo":20.6,"hi":28.6},{"k":"AHe","X":21.9,"Y":20.6,"lo":18.5,"hi":25.5},{"k":"AHe","X":17.9,"Y":19.9,"lo":15.1,"hi":21.1},{"k":"AHe","X":20.9,"Y":19.2,"lo":17.6,"hi":24.3},{"k":"AHe","X":11.2,"Y":14.2,"lo":9.5,"hi":12.9},{"k":"AHe","X":11.4,"Y":12.1,"lo":9.5,"hi":13.3},{"k":"AHe","X":11.9,"Y":10.2,"lo":10.2,"hi":14.0},{"k":"AHe","X":12.0,"Y":9.6,"lo":10.5,"hi":13.5},{"k":"AHe","X":10.3,"Y":8.9,"lo":8.5,"hi":12.0},{"k":"AHe","X":12.3,"Y":8.4,"lo":10.6,"hi":14.1},{"k":"AHe","X":11.8,"Y":7.1,"lo":10.3,"hi":13.5},{"k":"AHe","X":7.5,"Y":7.7,"lo":6.5,"hi":8.6},{"k":"AHe","X":5.2,"Y":8.0,"lo":4.3,"hi":6.1},{"k":"AHe","X":5.4,"Y":7.1,"lo":4.6,"hi":6.3},{"k":"AHe","X":9.3,"Y":5.4,"lo":8.0,"hi":10.7}
]
},
"hconcat": [
{
  "width": 427, "height": 387,
  "data": {"values": [{}]},
  "title": {"text": "near-Euphrates EAFZ traverse", "subtitle": "samples 131013 A, E, F, I (NW) and 131013 S, T, U, V (SE of the EAFZ)", "fontSize": 19.5, "fontWeight": "bold", "subtitleFontSize": 14, "subtitleFontWeight": "normal", "anchor": "middle", "offset": -44.4, "subtitlePadding": 4},
  "layer": [
    {"mark": {"type": "rect", "fill": "#FDDAA8"}, "encoding": {"x": {"datum": 4, "type": "quantitative", "scale": {"domain": [20, 0], "nice": false, "zero": false}, "axis": {"orient": "top", "values": [0,1,2,3,4,5,6,7,8,9,10,11,12,13,14,15,16,17,18,19,20], "labelExpr": "datum.value % 5 === 0 ? datum.label : ''", "tickSize": 5, "tickWidth": 1.5, "domain": false, "labelFontSize": 16, "labelFontWeight": "bold", "labelPadding": 3, "labelOverlap": false, "labelFlush": false, "labelBound": false, "title": "Time (Ma)", "titleFontSize": 15, "titleFontWeight": "bold", "titleY": 14, "titleBaseline": "middle"}}, "x2": {"datum": 0}}},
    {"mark": {"type": "rect", "fill": "#000000", "fillOpacity": 0.1}, "encoding": {"y": {"datum": 35, "type": "quantitative", "scale": {"domain": [-5.3, 200], "nice": false, "zero": false, "reverse": true}, "axis": {"orient": "left", "values": [0,10,20,30,40,50,60,70,80,90,100,110,120,130,140,150,160,170,180,190,200], "labelExpr": "datum.value % 50 === 0 ? datum.label : ''", "tickSize": 6, "tickWidth": 1.5, "domain": false, "labelFontSize": 16, "labelFontWeight": "bold", "labelPadding": 9, "labelOverlap": false, "title": "Temperature (°C)", "titleFontSize": 16, "titleFontWeight": "bold", "titlePadding": 9}}, "y2": {"datum": 65}}},
    {"mark": {"type": "rule", "color": "#999999", "strokeWidth": 2.5, "strokeDash": [14, 4, 3, 4]}, "encoding": {"y": {"datum": 35, "type": "quantitative", "scale": {"domain": [-5.3, 200], "nice": false, "zero": false, "reverse": true}, "axis": null}}},
    {"mark": {"type": "rule", "color": "#999999", "strokeWidth": 2.5, "strokeDash": [14, 4, 3, 4]}, "encoding": {"y": {"datum": 65, "type": "quantitative", "scale": {"domain": [-5.3, 200], "nice": false, "zero": false, "reverse": true}, "axis": null}}},
    {"mark": {"type": "rule", "color": "#111111", "strokeWidth": 2.5, "strokeDash": [8, 5]}, "encoding": {"y": {"datum": 60, "type": "quantitative", "scale": {"domain": [-5.3, 200], "nice": false, "zero": false, "reverse": true}, "axis": null}}},
    {"mark": {"type": "rule", "color": "#111111", "strokeWidth": 2.5, "strokeDash": [8, 5]}, "encoding": {"y": {"datum": 110, "type": "quantitative", "scale": {"domain": [-5.3, 200], "nice": false, "zero": false, "reverse": true}, "axis": null}}},
    {"mark": {"type": "text", "text": "Apatite (U-Th)/He PRZ", "align": "left", "baseline": "middle", "fontSize": 16, "fontWeight": "bold", "color": "#a3a3a3"}, "encoding": {"x": {"datum": 19.35, "type": "quantitative", "scale": {"domain": [20, 0], "nice": false, "zero": false}, "axis": null}, "y": {"datum": 47.9, "type": "quantitative", "scale": {"domain": [-5.3, 200], "nice": false, "zero": false, "reverse": true}, "axis": null}}},
    {"mark": {"type": "text", "text": "Apatite Fission Track PAZ", "align": "left", "baseline": "middle", "fontSize": 13.5, "fontWeight": "bold", "color": "#111111"}, "encoding": {"x": {"datum": 19.35, "type": "quantitative", "scale": {"domain": [20, 0], "nice": false, "zero": false}, "axis": null}, "y": {"datum": 84.3, "type": "quantitative", "scale": {"domain": [-5.3, 200], "nice": false, "zero": false, "reverse": true}, "axis": null}}},
    {"mark": {"type": "text", "text": "Reheating", "align": "center", "baseline": "middle", "fontSize": 15.5, "fontWeight": "bold", "color": "#F5A03C"}, "encoding": {"x": {"datum": 2.08, "type": "quantitative", "scale": {"domain": [20, 0], "nice": false, "zero": false}, "axis": null}, "y": {"datum": 87.1, "type": "quantitative", "scale": {"domain": [-5.3, 200], "nice": false, "zero": false, "reverse": true}, "axis": null}}},
    {"mark": {"type": "text", "text": "A", "align": "center", "baseline": "alphabetic", "font": "Liberation Sans", "fontSize": 23, "fontWeight": "bold", "color": "#111111"}, "encoding": {"x": {"datum": 22.4, "type": "quantitative", "scale": {"domain": [20, 0], "nice": false, "zero": false}, "axis": null}, "y": {"datum": -36.6, "type": "quantitative", "scale": {"domain": [-5.3, 200], "nice": false, "zero": false, "reverse": true}, "axis": null}}},
    {"data": {"name": "A_dash"}, "mark": {"type": "line", "strokeWidth": 1.2, "strokeDash": [3, 2.5], "clip": true}, "encoding": {"x": {"field": "t", "type": "quantitative", "scale": {"domain": [20, 0], "nice": false, "zero": false}, "axis": null}, "y": {"field": "T", "type": "quantitative", "scale": {"domain": [-5.3, 200], "nice": false, "zero": false, "reverse": true}, "axis": null}, "detail": {"field": "id"}, "color": {"field": "s", "type": "nominal", "scale": {"domain": ["top", "mid", "bot"], "range": ["#2233ff", "rgba(0,0,0,0)", "#ff2222"]}, "legend": {"orient": "none", "legendX": 18.3, "legendY": 339.7, "zindex": 2, "title": null, "padding": 5, "symbolType": "M-4,0H4", "symbolSize": 90, "symbolStrokeWidth": 1.5, "symbolDash": [4, 2.5], "labelAlign": "right", "labelOffset": -27.8, "symbolOffset": 153.3, "labelFontSize": 12, "labelFontWeight": "bold", "labelOpacity": 0, "rowPadding": 0, "labelExpr": "datum.label === 'top' ? 'Top Sample ±95% C.I.' : datum.label === 'mid' ? 'Intermediate Sample' : 'Bottom Sample ±95% C.I.'"}}}},
    {"data": {"name": "A_gray"}, "transform": [{"fold": ["g1", "g2", "g3", "g4", "g5", "g6"], "as": ["id", "T"]}], "mark": {"type": "line", "color": "#858585", "strokeWidth": 2.5, "clip": true}, "encoding": {"x": {"field": "t", "type": "quantitative", "scale": {"domain": [20, 0], "nice": false, "zero": false}, "axis": null}, "y": {"field": "T", "type": "quantitative", "scale": {"domain": [-5.3, 200], "nice": false, "zero": false, "reverse": true}, "axis": null}, "detail": {"field": "id"}}},
    {"data": {"name": "A_thick"}, "mark": {"type": "line", "strokeWidth": 3.5, "clip": true}, "encoding": {"x": {"field": "t", "type": "quantitative", "scale": {"domain": [20, 0], "nice": false, "zero": false}, "axis": null}, "y": {"field": "T", "type": "quantitative", "scale": {"domain": [-5.3, 200], "nice": false, "zero": false, "reverse": true}, "axis": null}, "color": {"field": "s", "type": "nominal", "scale": {"domain": ["top", "mid", "bot"], "range": ["#1020ff", "#858585", "#ff1010"]}, "legend": {"orient": "none", "legendX": 18.3, "legendY": 333.7, "zindex": 1, "title": null, "fillColor": "white", "strokeColor": "black", "padding": 5, "symbolType": "M-4,0H4", "symbolSize": 90, "symbolStrokeWidth": 4, "labelAlign": "right", "labelOffset": -27.8, "symbolOffset": 153.3, "labelFontSize": 12, "labelFontWeight": "bold", "rowPadding": 0, "labelLimit": 300, "labelExpr": "datum.label === 'top' ? 'Top Sample ±95% C.I.' : datum.label === 'mid' ? 'Intermediate Sample' : 'Bottom Sample ±95% C.I.'"}}}},
    {"mark": {"type": "rect", "fill": "white", "stroke": "#777777", "strokeWidth": 2}, "encoding": {"x": {"datum": -3.6, "type": "quantitative", "scale": {"domain": [0, 23], "range": [245.3, 416.7], "nice": false, "zero": false}, "axis": {"orient": "bottom", "offset": -22, "values": [0,2,4,6,8,10,12,14,16,18,20,22], "labelExpr": "datum.value % 20 === 0 ? datum.label : ''", "tickSize": 3, "domain": true, "labelFont": "Lato", "labelFontSize": 11, "labelFontWeight": "bold", "labelPadding": 1, "labelOverlap": false, "labelFlush": false, "title": "Observed Age (Ma)", "titleFontSize": 10.5, "titleFontWeight": "bold", "titleY": 12, "titleBaseline": "middle"}}, "x2": {"datum": 24.4}, "y": {"datum": -3.3, "type": "quantitative", "scale": {"domain": [0, 23.8], "range": [365, 200.8], "nice": false, "zero": false}, "axis": {"orient": "left", "offset": -245.3, "values": [0,2,4,6,8,10,12,14,16,18,20,22], "labelExpr": "datum.value % 20 === 0 ? datum.label : ''", "tickSize": 3, "domain": true, "labelFont": "Lato", "labelFontSize": 11, "labelFontWeight": "bold", "labelPadding": 2, "labelOverlap": false, "title": "Predicted Age (Ma)", "titleFontSize": 10.5, "titleFontWeight": "bold", "titleX": -15, "titleBaseline": "middle"}}, "y2": {"datum": 24.8}}},
    {"mark": {"type": "rule", "color": "#808080", "strokeWidth": 1}, "encoding": {"x": {"datum": 0, "type": "quantitative", "scale": {"domain": [0, 23], "range": [245.3, 416.7], "nice": false, "zero": false}, "axis": null}, "y": {"datum": 0, "type": "quantitative", "scale": {"domain": [0, 23.8], "range": [365, 200.8], "nice": false, "zero": false}, "axis": null}, "x2": {"datum": 23.2}, "y2": {"datum": 23.2}}},
    {"mark": {"type": "text", "text": "1:1 Line", "angle": 317, "fontSize": 9, "color": "#808080", "align": "center", "baseline": "middle"}, "encoding": {"x": {"datum": 21.4, "type": "quantitative", "scale": {"domain": [0, 23], "range": [245.3, 416.7], "nice": false, "zero": false}, "axis": null}, "y": {"datum": 22.6, "type": "quantitative", "scale": {"domain": [0, 23.8], "range": [365, 200.8], "nice": false, "zero": false}, "axis": null}}},
    {"data": {"name": "A_ins"}, "mark": {"type": "errorbar", "ticks": true, "thickness": 1.2}, "encoding": {"x": {"field": "lo", "type": "quantitative", "scale": {"domain": [0, 23], "range": [245.3, 416.7], "nice": false, "zero": false}, "axis": null}, "x2": {"field": "hi"}, "y": {"field": "Y", "type": "quantitative", "scale": {"domain": [0, 23.8], "range": [365, 200.8], "nice": false, "zero": false}, "axis": null}, "color": {"field": "k", "type": "nominal", "scale": {"domain": ["FT", "AHe", "ZHe"], "range": ["#1515e8", "#f01515", "#1c9a1c"]}, "legend": null}}},
    {"data": {"name": "A_ins"}, "mark": {"type": "point", "filled": true, "size": 45, "opacity": 1}, "encoding": {"x": {"field": "X", "type": "quantitative", "scale": {"domain": [0, 23], "range": [245.3, 416.7], "nice": false, "zero": false}, "axis": null}, "y": {"field": "Y", "type": "quantitative", "scale": {"domain": [0, 23.8], "range": [365, 200.8], "nice": false, "zero": false}, "axis": null}, "color": {"field": "k", "type": "nominal", "scale": {"domain": ["FT", "AHe", "ZHe"], "range": ["#1515e8", "#f01515", "#1c9a1c"]}, "legend": {"orient": "none", "legendX": 350.6, "legendY": 307.7, "title": null, "fillColor": "white", "strokeColor": "#222222", "padding": 5, "labelExpr": "datum.label + ' Age'", "labelFontSize": 11, "labelFontWeight": "bold", "symbolSize": 50, "rowPadding": 3}}, "shape": {"field": "k", "type": "nominal", "scale": {"domain": ["FT", "AHe", "ZHe"], "range": ["circle", "triangle-up", "triangle-down"]}, "legend": {"orient": "none", "legendX": 350.6, "legendY": 307.7, "title": null, "fillColor": "white", "strokeColor": "#222222", "padding": 5, "labelExpr": "datum.label + ' Age'", "labelFontSize": 11, "labelFontWeight": "bold", "symbolSize": 50, "rowPadding": 3}}}},
    {"mark": {"type": "text", "text": "n = 9", "align": "center", "baseline": "middle", "fontSize": 12, "fontWeight": "bold", "color": "#1c9a1c"}, "encoding": {"x": {"datum": 10.6, "type": "quantitative", "scale": {"domain": [0, 23], "range": [245.3, 416.7], "nice": false, "zero": false}, "axis": null}, "y": {"datum": 19.7, "type": "quantitative", "scale": {"domain": [0, 23.8], "range": [365, 200.8], "nice": false, "zero": false}, "axis": null}}},
    {"mark": {"type": "text", "text": "n = 8", "align": "center", "baseline": "middle", "fontSize": 12, "fontWeight": "bold", "color": "#1515e8"}, "encoding": {"x": {"datum": 2.6, "type": "quantitative", "scale": {"domain": [0, 23], "range": [245.3, 416.7], "nice": false, "zero": false}, "axis": null}, "y": {"datum": 14.7, "type": "quantitative", "scale": {"domain": [0, 23.8], "range": [365, 200.8], "nice": false, "zero": false}, "axis": null}}},
    {"mark": {"type": "text", "text": "n = 24", "align": "center", "baseline": "middle", "fontSize": 12, "fontWeight": "bold", "color": "#f01515"}, "encoding": {"x": {"datum": 3.1, "type": "quantitative", "scale": {"domain": [0, 23], "range": [245.3, 416.7], "nice": false, "zero": false}, "axis": null}, "y": {"datum": 9.2, "type": "quantitative", "scale": {"domain": [0, 23.8], "range": [365, 200.8], "nice": false, "zero": false}, "axis": null}}}
  ],
  "resolve": {"scale": {"x": "independent", "y": "independent", "color": "independent", "shape": "independent"}, "axis": {"x": "independent", "y": "independent"}, "legend": {"color": "independent", "shape": "independent"}}
},
{
  "width": 427, "height": 387,
  "data": {"values": [{}]},
  "title": {"text": "other Pütürge massif samples", "fontSize": 19.5, "fontWeight": "bold", "anchor": "middle", "offset": -24.4},
  "layer": [
    {"mark": {"type": "rect", "fill": "#000000", "fillOpacity": 0.1}, "encoding": {"y": {"datum": 35, "type": "quantitative", "scale": {"domain": [-5.3, 200], "nice": false, "zero": false, "reverse": true}, "axis": {"orient": "left", "values": [0,10,20,30,40,50,60,70,80,90,100,110,120,130,140,150,160,170,180,190,200], "labels": false, "tickSize": 6, "tickWidth": 1.5, "domain": false, "title": null}}, "y2": {"datum": 65}}},
    {"mark": {"type": "rule", "color": "#999999", "strokeWidth": 2.5, "strokeDash": [14, 4, 3, 4]}, "encoding": {"y": {"datum": 35, "type": "quantitative", "scale": {"domain": [-5.3, 200], "nice": false, "zero": false, "reverse": true}, "axis": null}}},
    {"mark": {"type": "rule", "color": "#999999", "strokeWidth": 2.5, "strokeDash": [14, 4, 3, 4]}, "encoding": {"y": {"datum": 65, "type": "quantitative", "scale": {"domain": [-5.3, 200], "nice": false, "zero": false, "reverse": true}, "axis": null}}},
    {"mark": {"type": "rule", "color": "#111111", "strokeWidth": 2.5, "strokeDash": [8, 5]}, "encoding": {"y": {"datum": 60, "type": "quantitative", "scale": {"domain": [-5.3, 200], "nice": false, "zero": false, "reverse": true}, "axis": null}}},
    {"mark": {"type": "rule", "color": "#111111", "strokeWidth": 2.5, "strokeDash": [8, 5]}, "encoding": {"y": {"datum": 110, "type": "quantitative", "scale": {"domain": [-5.3, 200], "nice": false, "zero": false, "reverse": true}, "axis": null}}},
    {"data": {"name": "B_dash"}, "mark": {"type": "line", "strokeWidth": 1.2, "strokeDash": [3, 2.5], "clip": true}, "encoding": {"x": {"field": "t", "type": "quantitative", "scale": {"domain": [20, 0], "nice": false, "zero": false}, "axis": {"orient": "top", "values": [0,1,2,3,4,5,6,7,8,9,10,11,12,13,14,15,16,17,18,19,20], "labelExpr": "datum.value % 5 === 0 ? datum.label : ''", "tickSize": 5, "tickWidth": 1.5, "domain": false, "labelFontSize": 16, "labelFontWeight": "bold", "labelPadding": 3, "labelOverlap": false, "labelFlush": false, "labelBound": false, "title": "Time (Ma)", "titleFontSize": 15, "titleFontWeight": "bold", "titleY": 14, "titleBaseline": "middle"}}, "y": {"field": "T", "type": "quantitative", "scale": {"domain": [-5.3, 200], "nice": false, "zero": false, "reverse": true}, "axis": null}, "detail": {"field": "id"}, "color": {"field": "s", "type": "nominal", "scale": {"domain": ["g", "o"], "range": ["#22a022", "#F7A030"]}, "legend": {"orient": "none", "legendX": 15.7, "legendY": 345.3, "zindex": 2, "title": null, "padding": 5, "symbolType": "M-4,0H4", "symbolSize": 62.4, "symbolStrokeWidth": 1.5, "symbolDash": [4, 2.5], "labelAlign": "right", "labelOffset": -24.75, "symbolOffset": 151.85, "labelFontSize": 11, "labelFontWeight": "bold", "labelOpacity": 0, "rowPadding": 1, "labelExpr": "datum.label === 'g' ? 'Sample 191014G ±95% C.I.' : 'Sample CAT13-29 ±95% C.I.'"}}}},
    {"data": {"name": "B_trav"}, "mark": {"type": "line", "strokeWidth": 1.2, "strokeDash": [3, 3], "color": "#2233ff", "clip": true}, "encoding": {"x": {"field": "t", "type": "quantitative", "scale": {"domain": [20, 0], "nice": false, "zero": false}, "axis": null}, "y": {"field": "T", "type": "quantitative", "scale": {"domain": [-5.3, 200], "nice": false, "zero": false, "reverse": true}, "axis": null}, "detail": {"field": "id"}}},
    {"data": {"name": "B_trav"}, "mark": {"type": "line", "strokeWidth": 1.2, "strokeDash": [3, 3], "strokeDashOffset": 3, "color": "#ff2222", "clip": true}, "encoding": {"x": {"field": "t", "type": "quantitative", "scale": {"domain": [20, 0], "nice": false, "zero": false}, "axis": null}, "y": {"field": "T", "type": "quantitative", "scale": {"domain": [-5.3, 200], "nice": false, "zero": false, "reverse": true}, "axis": null}, "detail": {"field": "id"}}},
    {"data": {"name": "B_thick"}, "transform": [{"filter": "datum.s === 'gr' || datum.s === 'r'"}], "mark": {"type": "line", "strokeWidth": 3.5, "clip": true}, "encoding": {"x": {"field": "t", "type": "quantitative", "scale": {"domain": [20, 0], "nice": false, "zero": false}, "axis": null}, "y": {"field": "T", "type": "quantitative", "scale": {"domain": [-5.3, 200], "nice": false, "zero": false, "reverse": true}, "axis": null}, "color": {"field": "s", "type": "nominal", "scale": {"domain": ["gr", "r"], "range": ["#858585", "#ff1010"]}, "legend": null}}},
    {"data": {"name": "B_thick"}, "transform": [{"filter": "datum.s === 'g' || datum.s === 'o'"}], "mark": {"type": "line", "strokeWidth": 3.5, "clip": true}, "encoding": {"x": {"field": "t", "type": "quantitative", "scale": {"domain": [20, 0], "nice": false, "zero": false}, "axis": null}, "y": {"field": "T", "type": "quantitative", "scale": {"domain": [-5.3, 200], "nice": false, "zero": false, "reverse": true}, "axis": null}, "color": {"field": "s", "type": "nominal", "scale": {"domain": ["g", "o"], "range": ["#22a022", "#F7A030"]}, "legend": {"orient": "none", "legendX": 15.7, "legendY": 339.3, "zindex": 1, "title": null, "fillColor": "white", "strokeColor": "black", "padding": 5, "symbolType": "M-4,0H4", "symbolSize": 62.4, "symbolStrokeWidth": 4, "labelAlign": "right", "labelOffset": -24.75, "symbolOffset": 151.85, "labelFontSize": 11, "labelFontWeight": "bold", "rowPadding": 1, "labelLimit": 300, "labelExpr": "datum.label === 'g' ? 'Sample 191014G ±95% C.I.' : 'Sample CAT13-29 ±95% C.I.'"}}}},
    {"data": {"name": "B_thick"}, "transform": [{"filter": "datum.s === 'b'"}], "mark": {"type": "line", "strokeWidth": 3.5, "color": "#1020ff", "clip": true}, "encoding": {"x": {"field": "t", "type": "quantitative", "scale": {"domain": [20, 0], "nice": false, "zero": false}, "axis": null}, "y": {"field": "T", "type": "quantitative", "scale": {"domain": [-5.3, 200], "nice": false, "zero": false, "reverse": true}, "axis": null}}},
    {"mark": {"type": "text", "text": "191014G", "align": "center", "baseline": "middle", "fontSize": 17, "fontWeight": "bold", "color": "#22a022"}, "encoding": {"x": {"datum": 14.43, "type": "quantitative", "scale": {"domain": [20, 0], "nice": false, "zero": false}, "axis": null}, "y": {"datum": 21.7, "type": "quantitative", "scale": {"domain": [-5.3, 200], "nice": false, "zero": false, "reverse": true}, "axis": null}}},
    {"mark": {"type": "text", "text": "CAT13-29", "align": "center", "baseline": "middle", "fontSize": 19, "fontWeight": "bold", "color": "#F7A030"}, "encoding": {"x": {"datum": 10.89, "type": "quantitative", "scale": {"domain": [20, 0], "nice": false, "zero": false}, "axis": null}, "y": {"datum": 83.6, "type": "quantitative", "scale": {"domain": [-5.3, 200], "nice": false, "zero": false, "reverse": true}, "axis": null}}},
    {"mark": {"type": "text", "text": "191014 C,D,E", "align": "left", "baseline": "middle", "fontSize": 17.5, "fontWeight": "bold", "color": "#1020ff"}, "encoding": {"x": {"datum": 5.23, "type": "quantitative", "scale": {"domain": [20, 0], "nice": false, "zero": false}, "axis": null}, "y": {"datum": 79, "type": "quantitative", "scale": {"domain": [-5.3, 200], "nice": false, "zero": false, "reverse": true}, "axis": null}}},
    {"mark": {"type": "text", "text": "Traverse", "align": "left", "baseline": "middle", "fontSize": 17.5, "fontWeight": "bold", "color": "#1020ff"}, "encoding": {"x": {"datum": 5.23, "type": "quantitative", "scale": {"domain": [20, 0], "nice": false, "zero": false}, "axis": null}, "y": {"datum": 89.6, "type": "quantitative", "scale": {"domain": [-5.3, 200], "nice": false, "zero": false, "reverse": true}, "axis": null}}},
    {"mark": {"type": "rule", "color": "#1020ff", "strokeWidth": 2.5}, "encoding": {"x": {"datum": 5.46, "type": "quantitative", "scale": {"domain": [20, 0], "nice": false, "zero": false}, "axis": null}, "y": {"datum": 72.8, "type": "quantitative", "scale": {"domain": [-5.3, 200], "nice": false, "zero": false, "reverse": true}, "axis": null}, "x2": {"datum": 6.15}, "y2": {"datum": 64.3}}},
    {"mark": {"type": "point", "shape": "triangle-up", "filled": true, "size": 90, "angle": 317, "color": "#1020ff", "opacity": 1}, "encoding": {"x": {"datum": 6.2, "type": "quantitative", "scale": {"domain": [20, 0], "nice": false, "zero": false}, "axis": null}, "y": {"datum": 63.6, "type": "quantitative", "scale": {"domain": [-5.3, 200], "nice": false, "zero": false, "reverse": true}, "axis": null}}},
    {"mark": {"type": "text", "text": "B", "align": "center", "baseline": "alphabetic", "font": "Liberation Sans", "fontSize": 23, "fontWeight": "bold", "color": "#111111"}, "encoding": {"x": {"datum": 20.1, "type": "quantitative", "scale": {"domain": [20, 0], "nice": false, "zero": false}, "axis": null}, "y": {"datum": -36.6, "type": "quantitative", "scale": {"domain": [-5.3, 200], "nice": false, "zero": false, "reverse": true}, "axis": null}}},
    {"mark": {"type": "rect", "fill": "white", "stroke": "#777777", "strokeWidth": 2}, "encoding": {"x": {"datum": -4.95, "type": "quantitative", "scale": {"domain": [0, 32.4], "range": [245.7, 420.3], "nice": false, "zero": false}, "axis": {"orient": "bottom", "offset": -22, "values": [0,5,10,15,20,25,30], "labelExpr": "datum.value % 30 === 0 ? datum.label : ''", "tickSize": 3, "domain": true, "labelFont": "Lato", "labelFontSize": 11, "labelFontWeight": "bold", "labelPadding": 1, "labelOverlap": false, "labelFlush": false, "title": "Observed Age (Ma)", "titleFontSize": 10.5, "titleFontWeight": "bold", "titleY": 12, "titleBaseline": "middle"}}, "x2": {"datum": 33.7}, "y": {"datum": -4.1, "type": "quantitative", "scale": {"domain": [0, 30.5], "range": [365, 200], "nice": false, "zero": false}, "axis": {"orient": "left", "offset": -245.7, "values": [0,5,10,15,20,25,30], "labelExpr": "datum.value % 30 === 0 ? datum.label : ''", "tickSize": 3, "domain": true, "labelFont": "Lato", "labelFontSize": 11, "labelFontWeight": "bold", "labelPadding": 2, "labelOverlap": false, "title": "Predicted Age (Ma)", "titleFontSize": 10.5, "titleFontWeight": "bold", "titleX": -15, "titleBaseline": "middle"}}, "y2": {"datum": 31.7}}},
    {"mark": {"type": "rule", "color": "#808080", "strokeWidth": 1}, "encoding": {"x": {"datum": 0, "type": "quantitative", "scale": {"domain": [0, 32.4], "range": [245.7, 420.3], "nice": false, "zero": false}, "axis": null}, "y": {"datum": 0, "type": "quantitative", "scale": {"domain": [0, 30.5], "range": [365, 200], "nice": false, "zero": false}, "axis": null}, "x2": {"datum": 30.3}, "y2": {"datum": 30.3}}},
    {"mark": {"type": "text", "text": "1:1 Line", "angle": 315, "fontSize": 9, "color": "#808080", "align": "center", "baseline": "middle"}, "encoding": {"x": {"datum": 27.8, "type": "quantitative", "scale": {"domain": [0, 32.4], "range": [245.7, 420.3], "nice": false, "zero": false}, "axis": null}, "y": {"datum": 27.3, "type": "quantitative", "scale": {"domain": [0, 30.5], "range": [365, 200], "nice": false, "zero": false}, "axis": null}}},
    {"data": {"name": "B_ins"}, "mark": {"type": "errorbar", "ticks": true, "thickness": 1.2}, "encoding": {"x": {"field": "lo", "type": "quantitative", "scale": {"domain": [0, 32.4], "range": [245.7, 420.3], "nice": false, "zero": false}, "axis": null}, "x2": {"field": "hi"}, "y": {"field": "Y", "type": "quantitative", "scale": {"domain": [0, 30.5], "range": [365, 200], "nice": false, "zero": false}, "axis": null}, "color": {"field": "k", "type": "nominal", "scale": {"domain": ["FT", "AHe"], "range": ["#1515e8", "#f01515"]}, "legend": null}}},
    {"data": {"name": "B_ins"}, "mark": {"type": "point", "filled": true, "size": 45, "opacity": 1}, "encoding": {"x": {"field": "X", "type": "quantitative", "scale": {"domain": [0, 32.4], "range": [245.7, 420.3], "nice": false, "zero": false}, "axis": null}, "y": {"field": "Y", "type": "quantitative", "scale": {"domain": [0, 30.5], "range": [365, 200], "nice": false, "zero": false}, "axis": null}, "color": {"field": "k", "type": "nominal", "scale": {"domain": ["FT", "AHe"], "range": ["#1515e8", "#f01515"]}, "legend": {"orient": "none", "legendX": 352.3, "legendY": 319.3, "title": null, "fillColor": "white", "strokeColor": "#222222", "padding": 5, "labelExpr": "datum.label + ' Age'", "labelFontSize": 11, "labelFontWeight": "bold", "symbolSize": 50, "rowPadding": 3}}, "shape": {"field": "k", "type": "nominal", "scale": {"domain": ["FT", "AHe"], "range": ["circle", "triangle-up"]}, "legend": {"orient": "none", "legendX": 352.3, "legendY": 319.3, "title": null, "fillColor": "white", "strokeColor": "#222222", "padding": 5, "labelExpr": "datum.label + ' Age'", "labelFontSize": 11, "labelFontWeight": "bold", "symbolSize": 50, "rowPadding": 3}}}},
    {"mark": {"type": "text", "text": "n = 4", "align": "center", "baseline": "middle", "fontSize": 12, "fontWeight": "bold", "color": "#1515e8"}, "encoding": {"x": {"datum": 6.6, "type": "quantitative", "scale": {"domain": [0, 32.4], "range": [245.7, 420.3], "nice": false, "zero": false}, "axis": null}, "y": {"datum": 18.4, "type": "quantitative", "scale": {"domain": [0, 30.5], "range": [365, 200], "nice": false, "zero": false}, "axis": null}}},
    {"mark": {"type": "text", "text": "n = 12", "align": "center", "baseline": "middle", "fontSize": 12, "fontWeight": "bold", "color": "#f01515"}, "encoding": {"x": {"datum": 14.1, "type": "quantitative", "scale": {"domain": [0, 32.4], "range": [245.7, 420.3], "nice": false, "zero": false}, "axis": null}, "y": {"datum": 7.8, "type": "quantitative", "scale": {"domain": [0, 30.5], "range": [365, 200], "nice": false, "zero": false}, "axis": null}}}
  ],
  "resolve": {"scale": {"x": "independent", "y": "independent", "color": "independent", "shape": "independent"}, "axis": {"x": "independent", "y": "independent"}, "legend": {"color": "independent", "shape": "independent"}}
},
{
  "width": 427, "height": 387,
  "data": {"values": [{}]},
  "title": {"text": "Mt. Berit traverse", "subtitle": "samples 151013 A, C, I, J, & 171013A", "fontSize": 19.5, "fontWeight": "bold", "subtitleFontSize": 14, "subtitleFontWeight": "normal", "anchor": "middle", "offset": -44.4, "subtitlePadding": 4},
  "layer": [
    {"mark": {"type": "rect", "fill": "#000000", "fillOpacity": 0.1}, "encoding": {"y": {"datum": 35, "type": "quantitative", "scale": {"domain": [-5.3, 200], "nice": false, "zero": false, "reverse": true}, "axis": {"orient": "left", "values": [0,10,20,30,40,50,60,70,80,90,100,110,120,130,140,150,160,170,180,190,200], "labels": false, "tickSize": 6, "tickWidth": 1.5, "domain": false, "title": null}}, "y2": {"datum": 65}}},
    {"mark": {"type": "rule", "color": "#999999", "strokeWidth": 2.5, "strokeDash": [14, 4, 3, 4]}, "encoding": {"y": {"datum": 35, "type": "quantitative", "scale": {"domain": [-5.3, 200], "nice": false, "zero": false, "reverse": true}, "axis": null}}},
    {"mark": {"type": "rule", "color": "#999999", "strokeWidth": 2.5, "strokeDash": [14, 4, 3, 4]}, "encoding": {"y": {"datum": 65, "type": "quantitative", "scale": {"domain": [-5.3, 200], "nice": false, "zero": false, "reverse": true}, "axis": null}}},
    {"mark": {"type": "rule", "color": "#111111", "strokeWidth": 2.5, "strokeDash": [8, 5]}, "encoding": {"y": {"datum": 60, "type": "quantitative", "scale": {"domain": [-5.3, 200], "nice": false, "zero": false, "reverse": true}, "axis": null}}},
    {"mark": {"type": "rule", "color": "#111111", "strokeWidth": 2.5, "strokeDash": [8, 5]}, "encoding": {"y": {"datum": 110, "type": "quantitative", "scale": {"domain": [-5.3, 200], "nice": false, "zero": false, "reverse": true}, "axis": null}}},
    {"data": {"name": "C_dash"}, "mark": {"type": "line", "strokeWidth": 1.2, "strokeDash": [3, 2.5], "clip": true}, "encoding": {"x": {"field": "t", "type": "quantitative", "scale": {"domain": [50, 0], "nice": false, "zero": false}, "axis": {"orient": "top", "values": [0,2,4,6,8,10,12,14,16,18,20,22,24,26,28,30,32,34,36,38,40,42,44,46,48,50], "labelExpr": "datum.value % 10 === 0 ? datum.label : ''", "tickSize": 5, "tickWidth": 1.5, "domain": false, "labelFontSize": 16, "labelFontWeight": "bold", "labelPadding": 3, "labelOverlap": false, "labelFlush": false, "labelBound": false, "title": "Time (Ma)", "titleFontSize": 15, "titleFontWeight": "bold", "titleY": 14, "titleBaseline": "middle"}}, "y": {"field": "T", "type": "quantitative", "scale": {"domain": [-5.3, 200], "nice": false, "zero": false, "reverse": true}, "axis": null}, "detail": {"field": "id"}, "color": {"field": "s", "type": "nominal", "scale": {"domain": ["b", "r"], "range": ["#2233ff", "#ff2222"]}, "legend": null}}},
    {"data": {"name": "C_gray"}, "transform": [{"fold": ["gA", "gB", "gC", "gD"], "as": ["id", "T"]}], "mark": {"type": "line", "color": "#858585", "strokeWidth": 2.5, "clip": true}, "encoding": {"x": {"field": "t", "type": "quantitative", "scale": {"domain": [50, 0], "nice": false, "zero": false}, "axis": null}, "y": {"field": "T", "type": "quantitative", "scale": {"domain": [-5.3, 200], "nice": false, "zero": false, "reverse": true}, "axis": null}, "detail": {"field": "id"}}},
    {"data": {"name": "C_thick"}, "mark": {"type": "line", "strokeWidth": 3.5, "clip": true}, "encoding": {"x": {"field": "t", "type": "quantitative", "scale": {"domain": [50, 0], "nice": false, "zero": false}, "axis": null}, "y": {"field": "T", "type": "quantitative", "scale": {"domain": [-5.3, 200], "nice": false, "zero": false, "reverse": true}, "axis": null}, "color": {"field": "s", "type": "nominal", "scale": {"domain": ["b", "r"], "range": ["#1020ff", "#ff1010"]}, "legend": null}}},
    {"mark": {"type": "text", "text": "C", "align": "center", "baseline": "alphabetic", "font": "Liberation Sans", "fontSize": 23, "fontWeight": "bold", "color": "#111111"}, "encoding": {"x": {"datum": 50.5, "type": "quantitative", "scale": {"domain": [50, 0], "nice": false, "zero": false}, "axis": null}, "y": {"datum": -36.6, "type": "quantitative", "scale": {"domain": [-5.3, 200], "nice": false, "zero": false, "reverse": true}, "axis": null}}},
    {"mark": {"type": "rect", "fill": "white", "stroke": "#777777", "strokeWidth": 2}, "encoding": {"x": {"datum": -6.6, "type": "quantitative", "scale": {"domain": [0, 44.3], "range": [245.7, 417.4], "nice": false, "zero": false}, "axis": {"orient": "bottom", "offset": -22, "values": [0,5,10,15,20,25,30,35,40], "labelExpr": "datum.value % 40 === 0 ? datum.label : ''", "tickSize": 3, "domain": true, "labelFont": "Lato", "labelFontSize": 11, "labelFontWeight": "bold", "labelPadding": 1, "labelOverlap": false, "labelFlush": false, "title": "Observed Age (Ma)", "titleFontSize": 10.5, "titleFontWeight": "bold", "titleY": 12, "titleBaseline": "middle"}}, "x2": {"datum": 47.1}, "y": {"datum": -6.1, "type": "quantitative", "scale": {"domain": [0, 45.5], "range": [365, 199.4], "nice": false, "zero": false}, "axis": {"orient": "left", "offset": -245.7, "values": [0,5,10,15,20,25,30,35,40,45], "labelExpr": "datum.value % 40 === 0 ? datum.label : ''", "tickSize": 3, "domain": true, "labelFont": "Lato", "labelFontSize": 11, "labelFontWeight": "bold", "labelPadding": 2, "labelOverlap": false, "title": "Predicted Age (Ma)", "titleFontSize": 10.5, "titleFontWeight": "bold", "titleX": -15, "titleBaseline": "middle"}}, "y2": {"datum": 46.9}}},
    {"mark": {"type": "rule", "color": "#808080", "strokeWidth": 1}, "encoding": {"x": {"datum": 0, "type": "quantitative", "scale": {"domain": [0, 44.3], "range": [245.7, 417.4], "nice": false, "zero": false}, "axis": null}, "y": {"datum": 0, "type": "quantitative", "scale": {"domain": [0, 45.5], "range": [365, 199.4], "nice": false, "zero": false}, "axis": null}, "x2": {"datum": 43}, "y2": {"datum": 43}}},
    {"mark": {"type": "text", "text": "1:1 Line", "angle": 317, "fontSize": 9, "color": "#808080", "align": "center", "baseline": "middle"}, "encoding": {"x": {"datum": 29.4, "type": "quantitative", "scale": {"domain": [0, 44.3], "range": [245.7, 417.4], "nice": false, "zero": false}, "axis": null}, "y": {"datum": 30.2, "type": "quantitative", "scale": {"domain": [0, 45.5], "range": [365, 199.4], "nice": false, "zero": false}, "axis": null}}},
    {"data": {"name": "C_ins"}, "mark": {"type": "errorbar", "ticks": true, "thickness": 1.2}, "encoding": {"x": {"field": "lo", "type": "quantitative", "scale": {"domain": [0, 44.3], "range": [245.7, 417.4], "nice": false, "zero": false}, "axis": null}, "x2": {"field": "hi"}, "y": {"field": "Y", "type": "quantitative", "scale": {"domain": [0, 45.5], "range": [365, 199.4], "nice": false, "zero": false}, "axis": null}, "color": {"field": "k", "type": "nominal", "scale": {"domain": ["FT", "AHe"], "range": ["#1515e8", "#f01515"]}, "legend": null}}},
    {"data": {"name": "C_ins"}, "mark": {"type": "point", "filled": true, "size": 45, "opacity": 1}, "encoding": {"x": {"field": "X", "type": "quantitative", "scale": {"domain": [0, 44.3], "range": [245.7, 417.4], "nice": false, "zero": false}, "axis": null}, "y": {"field": "Y", "type": "quantitative", "scale": {"domain": [0, 45.5], "range": [365, 199.4], "nice": false, "zero": false}, "axis": null}, "color": {"field": "k", "type": "nominal", "scale": {"domain": ["FT", "AHe"], "range": ["#1515e8", "#f01515"]}, "legend": {"orient": "none", "legendX": 353.4, "legendY": 319.3, "title": null, "fillColor": "white", "strokeColor": "#222222", "padding": 5, "labelExpr": "datum.label + ' Age'", "labelFontSize": 11, "labelFontWeight": "bold", "symbolSize": 50, "rowPadding": 3}}, "shape": {"field": "k", "type": "nominal", "scale": {"domain": ["FT", "AHe"], "range": ["circle", "triangle-up"]}, "legend": {"orient": "none", "legendX": 353.4, "legendY": 319.3, "title": null, "fillColor": "white", "strokeColor": "#222222", "padding": 5, "labelExpr": "datum.label + ' Age'", "labelFontSize": 11, "labelFontWeight": "bold", "symbolSize": 50, "rowPadding": 3}}}},
    {"mark": {"type": "text", "text": "n = 5", "align": "center", "baseline": "middle", "fontSize": 12, "fontWeight": "bold", "color": "#1515e8"}, "encoding": {"x": {"datum": 18.7, "type": "quantitative", "scale": {"domain": [0, 44.3], "range": [245.7, 417.4], "nice": false, "zero": false}, "axis": null}, "y": {"datum": 37.4, "type": "quantitative", "scale": {"domain": [0, 45.5], "range": [365, 199.4], "nice": false, "zero": false}, "axis": null}}},
    {"mark": {"type": "text", "text": "n = 15", "align": "center", "baseline": "middle", "fontSize": 12, "fontWeight": "bold", "color": "#f01515"}, "encoding": {"x": {"datum": 7.9, "type": "quantitative", "scale": {"domain": [0, 44.3], "range": [245.7, 417.4], "nice": false, "zero": false}, "axis": null}, "y": {"datum": 19.1, "type": "quantitative", "scale": {"domain": [0, 45.5], "range": [365, 199.4], "nice": false, "zero": false}, "axis": null}}}
  ],
  "resolve": {"scale": {"x": "independent", "y": "independent", "color": "independent", "shape": "independent"}, "axis": {"x": "independent", "y": "independent"}, "legend": {"color": "independent", "shape": "independent"}}
}
],
"resolve": {"scale": {"x": "independent", "y": "independent", "color": "independent", "shape": "independent"}, "legend": {"color": "independent", "shape": "independent"}}
}
